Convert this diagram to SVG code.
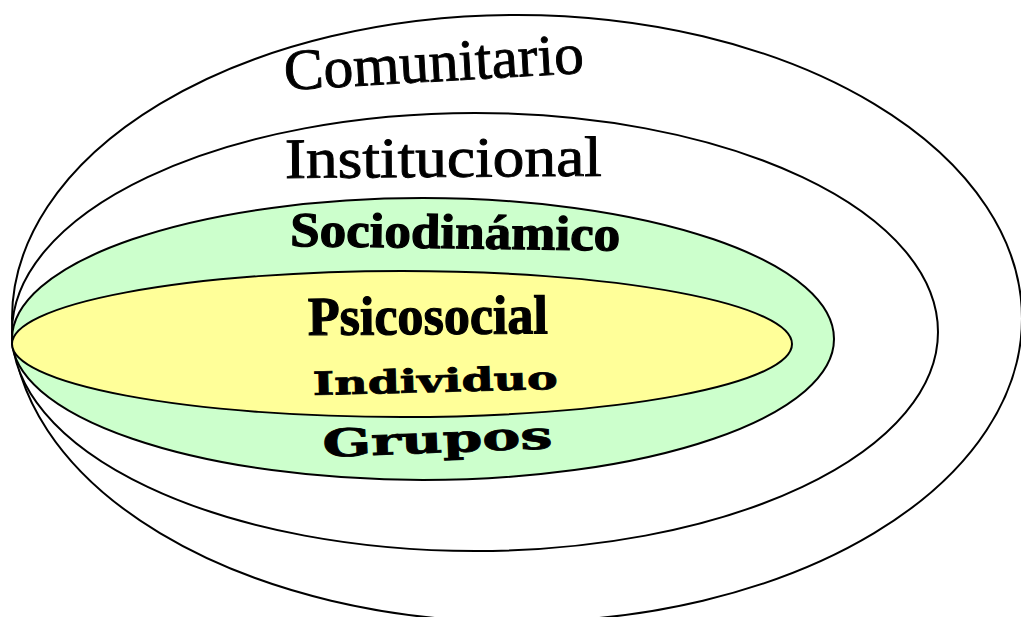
<svg xmlns="http://www.w3.org/2000/svg" width="1021" height="617" viewBox="0 0 1021 617">
<style>
.ring{stroke:#000;stroke-width:2}
.t{fill:#000;stroke:#000;stroke-width:0.9;font-family:"Liberation Serif","Times New Roman",serif}
.b{font-weight:bold;stroke-width:1.2}
.w{font-family:"DejaVu Serif","Liberation Serif",serif;font-weight:bold;stroke-width:0.8}
</style>
<rect width="1021" height="617" fill="#fff"/>
<g id="comunitario">
<ellipse class="ring" cx="517" cy="318.5" rx="505" ry="303.5" fill="#fff"/>
<text class="t" x="285" y="90" font-size="58" textLength="300" lengthAdjust="spacingAndGlyphs" transform="rotate(-3.3 285 90)">Comunitario</text>
</g>
<g id="institucional">
<ellipse class="ring" cx="475" cy="332" rx="463" ry="219" fill="#fff"/>
<text class="t" x="285" y="178" font-size="57" textLength="317" lengthAdjust="spacingAndGlyphs" transform="rotate(-0.4 285 178)">Institucional</text>
</g>
<g id="sociodinamico">
<ellipse class="ring" cx="423" cy="339" rx="411" ry="141" fill="#CCFFCC"/>
<text class="t b" x="290" y="246" font-size="49" textLength="330" lengthAdjust="spacingAndGlyphs" transform="rotate(0.8 290 246)">Sociodinámico</text>
<text class="t w" x="323" y="457" font-size="38" textLength="230" lengthAdjust="spacingAndGlyphs" transform="rotate(-2.2 323 457)">Grupos</text>
</g>
<g id="psicosocial">
<ellipse class="ring" cx="402" cy="344" rx="390" ry="73" fill="#FFFF99"/>
<text class="t b" x="308" y="335" font-size="55" textLength="240" lengthAdjust="spacingAndGlyphs" transform="rotate(-0.4 308 335)">Psicosocial</text>
<text class="t w" x="313" y="395" font-size="32" textLength="245" lengthAdjust="spacingAndGlyphs" transform="rotate(-1.4 313 395)">Individuo</text>
</g>
<g id="connectors"></g>
</svg>
